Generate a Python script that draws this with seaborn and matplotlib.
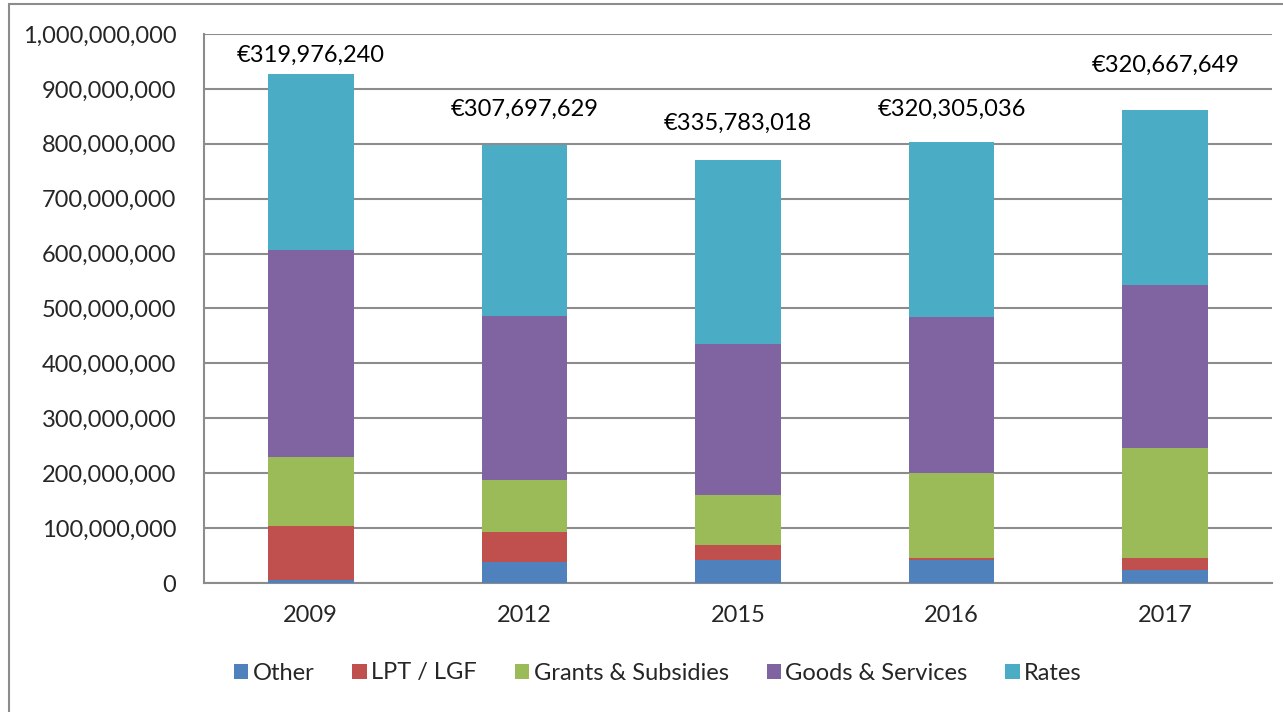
import matplotlib
matplotlib.use("Agg")
import matplotlib.pyplot as plt
import matplotlib.ticker as mticker
from matplotlib.patches import Rectangle
import numpy as np
import pandas as pd
import seaborn as sns

# Data
years = ["2009", "2012", "2015", "2016", "2017"]
other = [6e6, 38e6, 42e6, 42e6, 24e6]
lpt_lgf = [97e6, 54e6, 28e6, 3e6, 21e6]
grants = [127e6, 95e6, 91e6, 156e6, 200e6]
goods = [377e6, 300e6, 275e6, 283e6, 297e6]
rates = [321e6, 310e6, 335e6, 320e6, 320e6]
total_labels = ["€319,976,240", "€307,697,629", "€335,783,018", "€320,305,036", "€320,667,649"]
label_heights = [962e6, 862e6, 838e6, 862e6, 943e6]

series = {
    "Other": other,
    "LPT / LGF": lpt_lgf,
    "Grants & Subsidies": grants,
    "Goods & Services": goods,
    "Rates": rates,
}
colors = ["#4F81BD", "#C0504D", "#9BBB59", "#8064A2", "#4BACC6"]

sns.set_style("white")
plt.rcParams["font.family"] = ["Lato", "DejaVu Sans"]
fs = 17

fig = plt.figure(figsize=(12.83, 7.12), dpi=100)
ax = fig.add_axes([204 / 1283, 1 - 583 / 712, (1272 - 204) / 1283, (583 - 34) / 712])

# outer chart border
fig.patches.append(Rectangle((8.5 / 1283, -0.05), 1.1, 1 - 4 / 712 + 0.05,
                             transform=fig.transFigure, fill=False,
                             edgecolor="#8c8c8c", linewidth=1.5, zorder=0))

bottom = np.zeros(len(years))
for (name, vals), col in zip(series.items(), colors):
    df = pd.DataFrame({"year": years, "value": vals})
    sns.barplot(data=df, x="year", y="value", color=col, saturation=1, width=0.4,
                bottom=bottom, label=name, ax=ax, linewidth=0, zorder=3)
    bottom = bottom + np.array(vals)

handles, labels = ax.get_legend_handles_labels()
if ax.get_legend() is not None:
    ax.get_legend().remove()

for i, txt in enumerate(total_labels):
    ax.text(i, label_heights[i], txt, ha="center", va="center", fontsize=fs, color="black")

ax.set_ylim(0, 1e9)
ax.set_xlim(-0.5, 4.5)
ax.yaxis.set_major_locator(mticker.MultipleLocator(1e8))
ax.yaxis.set_major_formatter(mticker.FuncFormatter(lambda v, p: f"{int(v):,}"))
ax.grid(axis="y", color="#8c8c8c", linewidth=1.5, zorder=0)
ax.set_axisbelow(True)

ax.set_xticks(range(len(years)))
ax.set_xticklabels(years)
ax.set_xticks(np.arange(-0.5, 5, 1), minor=True)
ax.tick_params(axis="x", which="major", length=0, pad=16, labelsize=fs)
ax.tick_params(axis="x", which="minor", length=8, width=1.5, color="#8c8c8c", direction="out")
ax.tick_params(axis="y", length=7, width=1.5, color="#8c8c8c", direction="out", labelsize=fs, pad=13)
ax.set_xlabel("")
ax.set_ylabel("")

for s in ["top", "right"]:
    ax.spines[s].set_visible(False)
for s in ["left", "bottom"]:
    ax.spines[s].set_color("#8c8c8c")
    ax.spines[s].set_linewidth(1.5)

fig.legend(handles, labels, loc="center", bbox_to_anchor=(658 / 1283, 1 - 673 / 712),
           ncol=5, frameon=False, fontsize=fs, handlelength=0.6, handleheight=0.6,
           handletextpad=0.2, columnspacing=1.6)

fig.savefig("out.png", dpi=100)
